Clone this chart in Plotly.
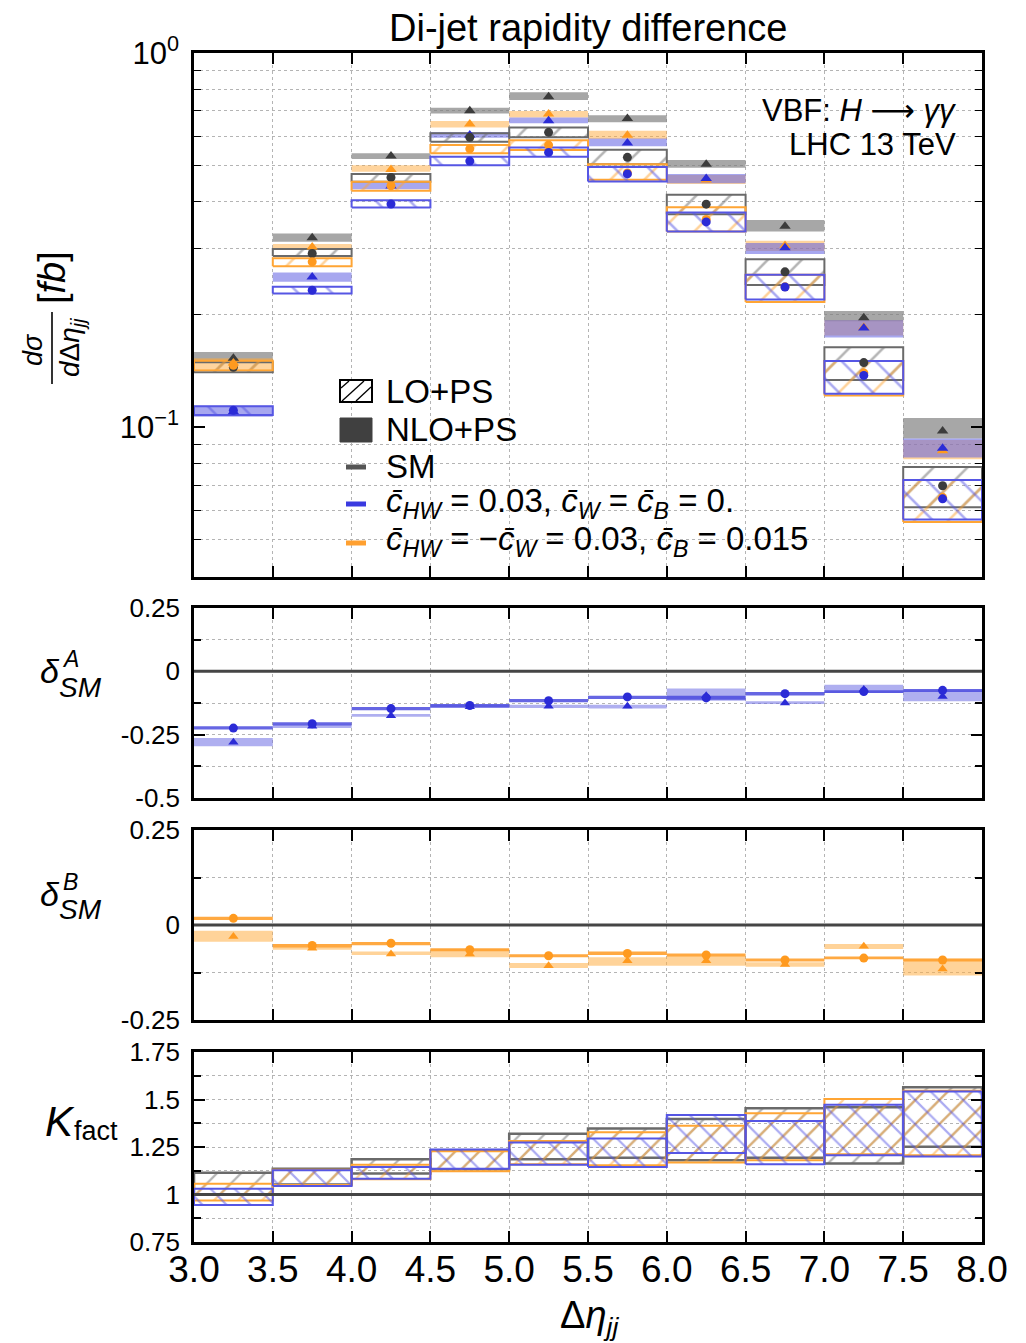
import plotly.graph_objects as go

# ---------------- data ----------------
edges = [3.0, 3.5, 4.0, 4.5, 5.0, 5.5, 6.0, 6.5, 7.0, 7.5, 8.0]
xtick_labels = ["3.0", "3.5", "4.0", "4.5", "5.0", "5.5", "6.0", "6.5", "7.0", "7.5", "8.0"]

# top panel: d sigma / d Delta eta_jj [fb]
sm_lo      = [0.1447, 0.2913, 0.4652, 0.5951, 0.6137, 0.5264, 0.3945, 0.2602, 0.1489, 0.0698]
sm_lo_min  = [0.1403, 0.2868, 0.4530, 0.5789, 0.5951, 0.5046, 0.3709, 0.2399, 0.1338, 0.0611]
sm_lo_max  = [0.1492, 0.2994, 0.4748, 0.6100, 0.6328, 0.5514, 0.4183, 0.2813, 0.1637, 0.0783]
sm_nlo     = [0.1529, 0.3207, 0.5305, 0.7010, 0.7640, 0.6680, 0.5046, 0.3442, 0.1961, 0.0977]
sm_nlo_min = [0.1485, 0.3130, 0.5207, 0.6897, 0.7485, 0.6535, 0.4938, 0.3334, 0.1920, 0.0933]
sm_nlo_max = [0.1590, 0.3296, 0.5396, 0.7144, 0.7850, 0.6817, 0.5174, 0.3577, 0.2046, 0.1059]

a_lo       = [0.1110, 0.2324, 0.3947, 0.5143, 0.5426, 0.4753, 0.3538, 0.2370, 0.1376, 0.0644]
a_lo_min   = [0.1078, 0.2278, 0.3865, 0.5016, 0.5282, 0.4536, 0.3334, 0.2195, 0.1230, 0.0567]
a_lo_max   = [0.1138, 0.2374, 0.4043, 0.5281, 0.5595, 0.4960, 0.3748, 0.2557, 0.1504, 0.0723]
a_nlo      = [0.1100, 0.2522, 0.4409, 0.6040, 0.6592, 0.5752, 0.4624, 0.3020, 0.1841, 0.0879]
a_nlo_min  = [0.1067, 0.2447, 0.4327, 0.5940, 0.6487, 0.5633, 0.4489, 0.2904, 0.1738, 0.0831]
a_nlo_max  = [0.1142, 0.2593, 0.4500, 0.6150, 0.6729, 0.5914, 0.4753, 0.3109, 0.1932, 0.0933]

b_lo       = [0.1464, 0.2767, 0.4420, 0.5546, 0.5675, 0.4782, 0.3591, 0.2373, 0.1397, 0.0650]
b_lo_min   = [0.1420, 0.2694, 0.4283, 0.5394, 0.5510, 0.4583, 0.3334, 0.2160, 0.1216, 0.0558]
b_lo_max   = [0.1505, 0.2827, 0.4530, 0.5676, 0.5850, 0.5046, 0.3870, 0.2557, 0.1504, 0.0723]
b_nlo      = [0.1484, 0.3033, 0.4887, 0.6458, 0.6868, 0.6028, 0.4580, 0.3060, 0.1850, 0.0866]
b_nlo_min  = [0.1430, 0.2986, 0.4817, 0.6328, 0.6729, 0.5888, 0.4470, 0.2960, 0.1760, 0.0821]
b_nlo_max  = [0.1530, 0.3090, 0.5010, 0.6580, 0.6997, 0.6199, 0.4720, 0.3150, 0.1930, 0.0925]

# delta^A_SM panel
dA_lo      = [-0.224, -0.207, -0.147, -0.135, -0.116, -0.101, -0.105, -0.088, -0.080, -0.075]
dA_lo_min  = [-0.230, -0.214, -0.154, -0.143, -0.122, -0.109, -0.112, -0.095, -0.086, -0.082]
dA_lo_max  = [-0.217, -0.201, -0.141, -0.129, -0.109, -0.096, -0.096, -0.082, -0.075, -0.070]
dA_nlo     = [-0.280, -0.217, -0.175, -0.140, -0.138, -0.138, -0.096, -0.125, -0.072, -0.099]
dA_nlo_min = [-0.296, -0.224, -0.179, -0.145, -0.145, -0.147, -0.116, -0.129, -0.086, -0.118]
dA_nlo_max = [-0.263, -0.211, -0.168, -0.132, -0.132, -0.132, -0.068, -0.118, -0.053, -0.075]

# delta^B_SM panel
dB_lo      = [0.0175, -0.054, -0.048, -0.065, -0.081, -0.075, -0.079, -0.092, -0.087, -0.092]
dB_lo_min  = [0.013, -0.059, -0.053, -0.069, -0.085, -0.079, -0.083, -0.096, -0.090, -0.096]
dB_lo_max  = [0.022, -0.050, -0.045, -0.061, -0.077, -0.070, -0.075, -0.088, -0.083, -0.088]
dB_nlo     = [-0.030, -0.061, -0.076, -0.076, -0.107, -0.094, -0.094, -0.104, -0.056, -0.116]
dB_nlo_min = [-0.044, -0.065, -0.079, -0.085, -0.113, -0.107, -0.107, -0.110, -0.063, -0.133]
dB_nlo_max = [-0.015, -0.057, -0.070, -0.063, -0.100, -0.085, -0.081, -0.098, -0.050, -0.089]

# K factor panel
k_sm_min = [1.000, 1.053, 1.110, 1.133, 1.186, 1.194, 1.180, 1.194, 1.163, 1.251]
k_sm_max = [1.115, 1.136, 1.186, 1.233, 1.320, 1.348, 1.397, 1.454, 1.459, 1.564]
k_a_min  = [0.945, 1.045, 1.083, 1.136, 1.157, 1.145, 1.219, 1.159, 1.207, 1.200]
k_a_max  = [1.030, 1.127, 1.145, 1.237, 1.274, 1.295, 1.419, 1.387, 1.472, 1.542]
k_b_min  = [0.968, 1.050, 1.080, 1.122, 1.159, 1.154, 1.168, 1.180, 1.212, 1.207]
k_b_max  = [1.057, 1.130, 1.157, 1.228, 1.281, 1.327, 1.362, 1.428, 1.502, 1.546]

# ---------------- styles ----------------
GRAY_M, GRAY_L, GRAY_F = "#3c3c3c", "#6a6a6a", "rgba(125,125,125,0.68)"
BLUE_M, BLUE_L, BLUE_F = "#2b2bd6", "#5656e4", "rgba(95,95,225,0.55)"
ORNG_M, ORNG_L, ORNG_F = "#ff9a1f", "#ffa534", "rgba(255,170,60,0.50)"
BLUE_D = "rgba(75,75,222,0.85)"
ORNG_D = "rgba(255,160,45,0.90)"
FONT = "Liberation Sans, Arial, Helvetica, sans-serif"

centers = [(edges[i] + edges[i + 1]) / 2 for i in range(len(edges) - 1)]

W, H = 1026, 1343
ML, MR, MT, MB = 194, 44, 53, 101
PW, PH = W - ML - MR, H - MT - MB


def px(xp):
    return (xp - ML) / PW


def py(yp):
    return (H - MB - yp) / PH


def box_path(lo, hi):
    xs, ys = [], []
    for i in range(len(lo)):
        x0, x1 = edges[i], edges[i + 1]
        xs += [x0, x1, x1, x0, x0, None]
        ys += [lo[i], lo[i], hi[i], hi[i], lo[i], None]
    return xs, ys


fig = go.Figure()


def solid_band(ax, lo, hi, color):
    xs, ys = box_path(lo, hi)
    fig.add_trace(go.Scatter(x=xs, y=ys, mode="lines", fill="toself", fillcolor=color,
                             line=dict(width=0, color=color), hoverinfo="skip",
                             showlegend=False, xaxis="x" + ax, yaxis="y" + ax))


def hatch_band(ax, lo, hi, color, shape, size=22, lw=2, sol=0.1):
    xs, ys = box_path(lo, hi)
    fig.add_trace(go.Scatter(x=xs, y=ys, mode="lines", fill="toself",
                             fillcolor="rgba(0,0,0,0)",
                             fillpattern=dict(shape=shape, fgcolor=color, bgcolor="rgba(0,0,0,0)",
                                              size=size, solidity=sol),
                             line=dict(width=lw, color=color), hoverinfo="skip",
                             showlegend=False, xaxis="x" + ax, yaxis="y" + ax))


def markers(ax, vals, color, symbol, size):
    fig.add_trace(go.Scatter(x=centers, y=vals, mode="markers",
                             marker=dict(symbol=symbol, size=size, color=color, line=dict(width=0)),
                             showlegend=False, hoverinfo="skip", xaxis="x" + ax, yaxis="y" + ax))


# ---- top panel ----
solid_band("", sm_nlo_min, sm_nlo_max, GRAY_F)
solid_band("", b_nlo_min, b_nlo_max, ORNG_F)
solid_band("", a_nlo_min, a_nlo_max, BLUE_F)
hatch_band("", sm_lo_min, sm_lo_max, GRAY_L, "/", 24, 2, 0.11)
hatch_band("", b_lo_min, b_lo_max, ORNG_L, "/", 24, 2, 0.11)
hatch_band("", a_lo_min, a_lo_max, BLUE_L, "\\", 24, 2, 0.11)
markers("", sm_nlo, GRAY_M, "triangle-up", 10)
markers("", b_nlo, ORNG_M, "triangle-up", 10)
markers("", a_nlo, BLUE_M, "triangle-up", 10)
markers("", sm_lo, GRAY_M, "circle", 9)
markers("", b_lo, ORNG_M, "circle", 9)
markers("", a_lo, BLUE_M, "circle", 9)

# ---- delta A ----
solid_band("2", dA_nlo_min, dA_nlo_max, "rgba(110,110,228,0.55)")
solid_band("2", dA_lo_min, dA_lo_max, BLUE_D)
markers("2", dA_nlo, BLUE_M, "triangle-up", 9)
markers("2", dA_lo, BLUE_M, "circle", 9)

# ---- delta B ----
solid_band("3", dB_nlo_min, dB_nlo_max, "rgba(255,175,70,0.55)")
solid_band("3", dB_lo_min, dB_lo_max, ORNG_D)
markers("3", dB_nlo, ORNG_M, "triangle-up", 9)
markers("3", dB_lo, ORNG_M, "circle", 9)

# ---- K factor ----
hatch_band("4", k_sm_min, k_sm_max, GRAY_L, "/", 17, 2.5, 0.13)
hatch_band("4", k_b_min, k_b_max, ORNG_L, "/", 17, 2, 0.13)
hatch_band("4", k_a_min, k_a_max, BLUE_L, "\\", 17, 2, 0.13)

# ---------------- axes ----------------
doms = [
    [py(577), py(53)],
    [py(798), py(608)],
    [py(1020), py(830)],
    [py(1242), py(1052)],
]

common_x = dict(range=[3.0, 8.0], tickmode="array", tickvals=edges, ticktext=xtick_labels,
                ticks="inside", ticklen=11, tickwidth=1.5, tickcolor="black",
                showline=True, linecolor="black", linewidth=2.5, mirror="allticks",
                showgrid=True, gridcolor="#b4b4b4", griddash="dot", gridwidth=1,
                zeroline=False, tickfont=dict(family=FONT, size=37, color="black"))

layout_axes = {}
for i, name in enumerate(["xaxis", "xaxis2", "xaxis3", "xaxis4"]):
    ax = dict(common_x)
    ax["domain"] = [0, 1]
    ax["anchor"] = "y" if i == 0 else "y%d" % (i + 1)
    ax["showticklabels"] = (i == 3)
    if i == 3:
        ax["ticklabelstandoff"] = -7
    if i > 0:
        ax["matches"] = "x"
    layout_axes[name] = ax

common_y = dict(ticks="inside", ticklen=11, tickwidth=1.5, tickcolor="black",
                showline=True, linecolor="black", linewidth=2.5, mirror="allticks",
                showgrid=True, gridcolor="#b4b4b4", griddash="dot", gridwidth=1,
                zeroline=False, tickfont=dict(family=FONT, size=26, color="black"),
                ticklabelstandoff=6)

y1 = dict(common_y)
y1.update(domain=doms[0], anchor="x", type="log", range=[-1.4, 0.0],
          tickmode="array", tickvals=[0.1, 1.0],
          ticktext=["10<sup>\u22121</sup>", "10<sup>0</sup>"], showgrid=False,
          tickfont=dict(family=FONT, size=31, color="black"),
          minor=dict(tickmode="array",
                     tickvals=[0.04, 0.05, 0.06, 0.07, 0.08, 0.09, 0.2, 0.3, 0.4, 0.5, 0.6, 0.7, 0.8, 0.9],
                     ticks="inside", ticklen=7, tickcolor="black", tickwidth=1.2,
                     showgrid=True, gridcolor="#b4b4b4", griddash="dot", gridwidth=1))
y2 = dict(common_y)
y2.update(domain=doms[1], anchor="x2", range=[-0.5, 0.25], tickmode="array",
          tickvals=[-0.5, -0.25, 0, 0.25], ticktext=["-0.5", "-0.25", "0", "0.25"],
          minor=dict(tickmode="array", tickvals=[-0.375, -0.125, 0.125], ticks="inside",
                     ticklen=7, tickcolor="black", showgrid=True, gridcolor="#b4b4b4",
                     griddash="dot", gridwidth=1))
y3 = dict(common_y)
y3.update(domain=doms[2], anchor="x3", range=[-0.25, 0.25], tickmode="array",
          tickvals=[-0.25, 0, 0.25], ticktext=["-0.25", "0", "0.25"],
          minor=dict(tickmode="array", tickvals=[-0.125, 0.125], ticks="inside",
                     ticklen=7, tickcolor="black", showgrid=True, gridcolor="#b4b4b4",
                     griddash="dot", gridwidth=1))
y4 = dict(common_y)
y4.update(domain=doms[3], anchor="x4", range=[0.75, 1.75], tickmode="array",
          tickvals=[0.75, 1.0, 1.25, 1.5, 1.75], ticktext=["0.75", "1", "1.25", "1.5", "1.75"],
          minor=dict(tickmode="array", tickvals=[0.875, 1.125, 1.375, 1.625], ticks="inside",
                     ticklen=7, tickcolor="black", showgrid=True, gridcolor="#b4b4b4",
                     griddash="dot", gridwidth=1))
layout_axes.update(yaxis=y1, yaxis2=y2, yaxis3=y3, yaxis4=y4)

# ---------------- shapes (reference lines, legend icons) ----------------
shapes = [
    dict(type="line", xref="paper", yref="y2", x0=0, x1=1, y0=0, y1=0,
         line=dict(color="#454545", width=3), layer="above"),
    dict(type="line", xref="paper", yref="y3", x0=0, x1=1, y0=0, y1=0,
         line=dict(color="#454545", width=3), layer="above"),
    dict(type="line", xref="paper", yref="y4", x0=0, x1=1, y0=1, y1=1,
         line=dict(color="#454545", width=3), layer="above"),
    # legend: LO+PS hatched icon
    dict(type="rect", xref="paper", yref="paper", x0=px(340), x1=px(372), y0=py(402), y1=py(380),
         line=dict(color="black", width=2), fillcolor="white"),
    dict(type="line", xref="paper", yref="paper", x0=px(342), x1=px(364), y0=py(401), y1=py(381),
         line=dict(color="black", width=1.3)),
    dict(type="line", xref="paper", yref="paper", x0=px(356), x1=px(371), y0=py(401), y1=py(387),
         line=dict(color="black", width=1.3)),
    dict(type="line", xref="paper", yref="paper", x0=px(341), x1=px(349), y0=py(388), y1=py(381),
         line=dict(color="black", width=1.3)),
    # NLO+PS solid icon
    dict(type="rect", xref="paper", yref="paper", x0=px(340), x1=px(372), y0=py(442), y1=py(418),
         line=dict(color="#404040", width=1), fillcolor="#404040"),
    # line icons
    dict(type="line", xref="paper", yref="paper", x0=px(346), x1=px(366), y0=py(467), y1=py(467),
         line=dict(color="#555555", width=5)),
    dict(type="line", xref="paper", yref="paper", x0=px(346), x1=px(366), y0=py(504), y1=py(504),
         line=dict(color="#3a3ae0", width=5)),
    dict(type="line", xref="paper", yref="paper", x0=px(346), x1=px(366), y0=py(543), y1=py(543),
         line=dict(color="#ffa030", width=5)),
    # fraction bar of the y title
    dict(type="line", xref="paper", yref="paper", x0=px(52), x1=px(52), y0=py(384), y1=py(312),
         line=dict(color="black", width=1.6)),
]


def ann(x, y, text, size, xanchor="center", angle=0):
    return dict(xref="paper", yref="paper", x=px(x), y=py(y), text=text, showarrow=False,
                xanchor=xanchor, yanchor="middle", textangle=angle,
                font=dict(family=FONT, size=size, color="black"))


cbar = "c\u0304"
arrow = "<span style='font-family:DejaVu Sans'>\u27f6</span>"
annotations = [
    ann(588, 28, "Di-jet rapidity difference", 38),
    ann(958, 110, "VBF: <i>H</i> %s <i>\u03b3\u03b3</i>" % arrow, 31, xanchor="right"),
    ann(958, 144, "LHC 13 TeV", 31, xanchor="right"),
    ann(384, 392, "LO+PS", 33, xanchor="left"),
    ann(384, 430, "NLO+PS", 33, xanchor="left"),
    ann(384, 467, "SM", 33, xanchor="left"),
    ann(384, 503, "<i>%s</i><sub><i>HW</i></sub> = 0.03, <i>%s</i><sub><i>W</i></sub> = <i>%s</i><sub><i>B</i></sub> = 0." % (cbar, cbar, cbar), 33, xanchor="left"),
    ann(384, 541, "<i>%s</i><sub><i>HW</i></sub> = \u2212<i>%s</i><sub><i>W</i></sub> = 0.03, <i>%s</i><sub><i>B</i></sub> = 0.015" % (cbar, cbar, cbar), 33, xanchor="left"),
    # y title top panel (fraction)
    ann(33, 350, "<i>d\u03c3</i>", 27, angle=-90),
    ann(71, 348, "<i>d</i>\u0394<i>\u03b7</i><sub><i>jj</i></sub>", 28, angle=-90),
    ann(52, 278, "[<i>fb</i>]", 38, angle=-90),
    # delta A
    ann(50, 671, "<i>\u03b4</i>", 34),
    ann(70, 659, "<i>A</i>", 23),
    ann(81, 687, "<i>SM</i>", 28),
    # delta B
    ann(50, 894, "<i>\u03b4</i>", 34),
    ann(70, 882, "<i>B</i>", 23),
    ann(81, 910, "<i>SM</i>", 28),
    # K fact
    ann(60, 1121, "<i>K</i>", 42),
    ann(72, 1131, "fact", 27, xanchor="left"),
    # x title
    ann(589, 1318, "\u0394<i>\u03b7</i><sub><i>jj</i></sub>", 38),
]

fig.update_layout(width=W, height=H, margin=dict(l=ML, r=MR, t=MT, b=MB),
                  paper_bgcolor="white", plot_bgcolor="white", showlegend=False,
                  font=dict(family=FONT, color="black"),
                  shapes=shapes, annotations=annotations, **layout_axes)

fig.write_html("out.html")
